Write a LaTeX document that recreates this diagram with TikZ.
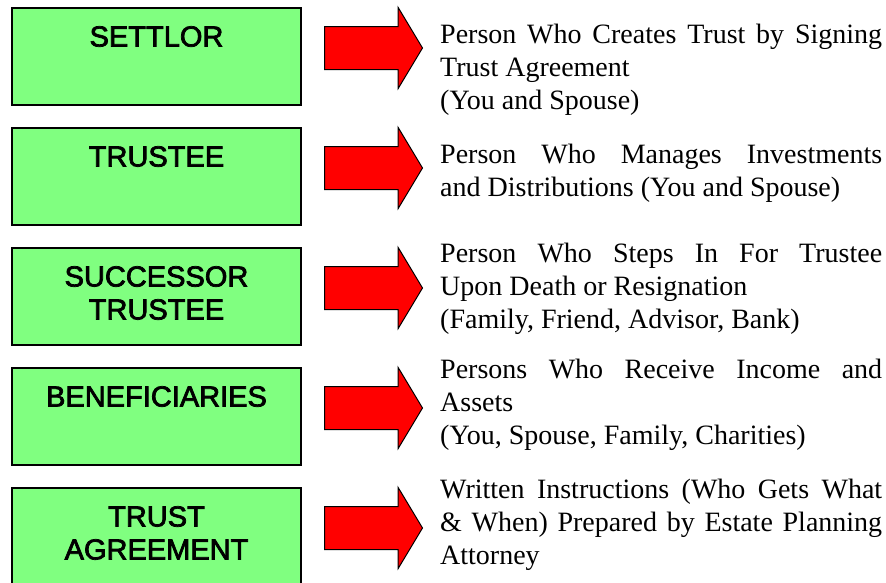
\documentclass[tikz,border=0pt]{standalone}
\usepackage{fontspec}
\setmainfont{Liberation Serif}
\newfontfamily\boxfont[FakeBold=2.5]{Liberation Sans}
\usepackage{tikz}
\usetikzlibrary{arrows}
\usetikzlibrary{shapes.arrows}
\usetikzlibrary{calc}
\definecolor{boxgreen}{RGB}{128,255,128}

\begin{document}
\begin{tikzpicture}[x=1pt,y=-1pt]
\useasboundingbox (0,0) rectangle (886,582);
            \begin{scope}[node distance=120pt,
              name box/.style={rectangle,draw,line width=2pt,fill=boxgreen,inner sep=0pt,
                text width=289pt,align=center,text height=38.5pt,text depth=58.5pt,
                font=\boxfont\fontsize{29}{33}\selectfont},
              red arrow/.style={single arrow,draw,fill=red,line width=1pt,inner sep=0pt,
                text height=21pt,text depth=21pt,
                minimum height=98pt,minimum width=80pt,single arrow head extend=19pt,
                single arrow tip angle=118,anchor=tail},
              desc/.style={anchor=base west,inner sep=0pt,text width=442pt,align=justify,
                font=\fontsize{28}{33}\selectfont}]
            \node[name box] (1) at (156.5,56.5) {SETTLOR};
            \node[name box] (2) [below of=1] {TRUSTEE};
            \node[name box] (3) [below of=2] {SUCCESSOR\\ TRUSTEE};
            \node[name box] (4) [below of=3] {BENEFICIARIES};
            \node[name box] (5) [below of=4] {TRUST\\ AGREEMENT};
            \node[red arrow] (a1) at ($(1.east)+(22,-8.5)$) {};
            \node[red arrow] (a2) at ($(2.east)+(22,-8.5)$) {};
            \node[red arrow] (a3) at ($(3.east)+(22,-8.5)$) {};
            \node[red arrow] (a4) at ($(4.east)+(22,-8.5)$) {};
            \node[red arrow] (a5) at ($(5.east)+(22,-8.5)$) {};
            \node[desc] (t1) at (440,43) {Person Who Creates Trust by Signing\linebreak Trust Agreement\\ (You and Spouse)};
            \node[desc] (t2) at (440,163) {Person Who Manages Investments\linebreak and Distributions (You and Spouse)};
            \node[desc] (t3) at (440,262) {Person Who Steps In For Trustee\linebreak Upon Death or Resignation\\ (Family, Friend, Advisor, Bank)};
            \node[desc] (t4) at (440,378) {Persons Who Receive Income and\linebreak Assets\\ (You, Spouse, Family, Charities)};
            \node[desc] (t5) at (440,498) {Written Instructions (Who Gets What\linebreak \& When) Prepared by Estate Planning\linebreak Attorney};
            %(a1) edge (t1)
            \end{scope}
        \end{tikzpicture}
\end{document}
